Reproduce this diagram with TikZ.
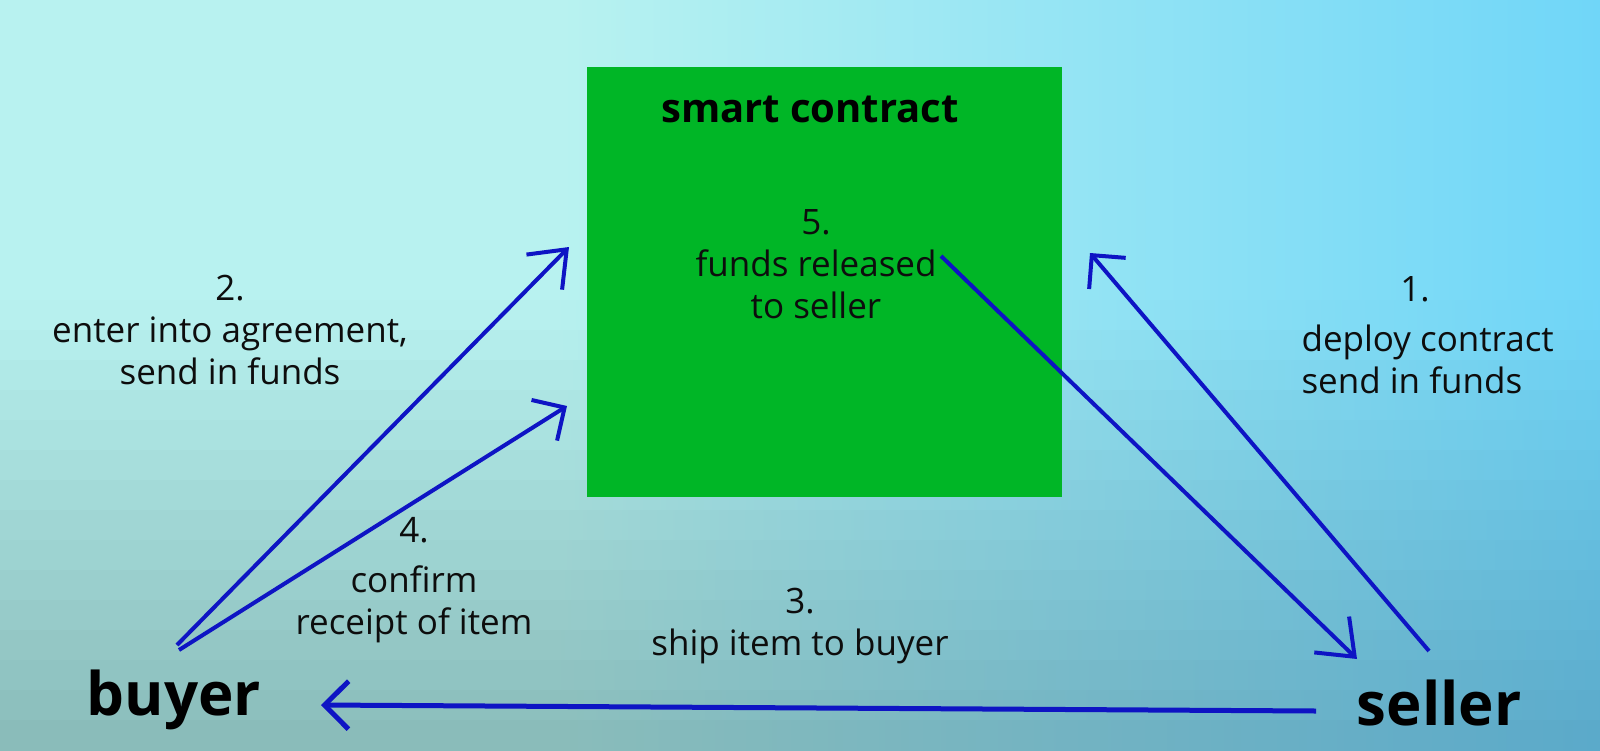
\documentclass[tikz,border=0pt]{standalone}
\usepackage{fontspec}
\setmainfont{Open Sans}
\usetikzlibrary{arrows.meta}

\definecolor{bgtl}{RGB}{184,242,240}
\definecolor{bgtr}{RGB}{112,214,248}
\definecolor{bgbl}{RGB}{136,186,184}
\definecolor{bgbr}{RGB}{90,168,200}
\definecolor{flowblue}{RGB}{14,20,196}
\definecolor{contractgreen}{RGB}{0,182,38}

\begin{document}
\begin{tikzpicture}[x=1pt,y=-1pt]
    \tikzstyle{stepnote}=[font=\fontsize{35}{42}\selectfont, align=center, text=black!95]
    \tikzstyle{party}=[font=\fontsize{60}{62}\selectfont\bfseries, text=black]
    \tikzstyle{flow}=[flowblue, line width=4pt, -{Straight Barb[length=24pt,width=48pt]}]
    \tikzstyle{bigflow}=[flowblue, line width=4pt, -{Straight Barb[length=32pt,width=50pt]}]

  %% background
  \useasboundingbox (0,0) rectangle (1600,750);
  \foreach \i in {0,...,24} {
    \pgfmathsetmacro{\ytop}{\i*30}
    \pgfmathtruncatemacro{\mix}{max(0,min(100,(\i*30+15-300)/450*100))}
    \fill[bgbl!\mix!bgtl] (0,\ytop) rectangle (561,\ytop+31);
    \shade[left color=bgbl!\mix!bgtl, right color=bgbr!\mix!bgtr] (560,\ytop) rectangle (1600,\ytop+31);
  }

  %% smart contract
  \node (contract) at (587,67) [anchor=north west, fill=contractgreen, minimum width=475pt, minimum height=430pt, inner sep=0pt] {};
  \node (title) at (810,109) [font=\fontsize{40}{42}\selectfont\bfseries] {smart contract};

  \node (buyer) at (174,700) [party] {buyer};
  \node (seller) at (1439,703) [party] {seller};

  %% arrow ends
  \coordinate (s1) at (1429,651); % seller
  \coordinate (c1) at (1090,253);
  \coordinate (b2) at (177,645);  % buyer
  \coordinate (c2) at (569,247);
  \coordinate (b4) at (179,650);
  \coordinate (c4) at (567,406);
  \coordinate (c5) at (941,256);
  \coordinate (s5) at (1357,659);
  \coordinate (s3) at (1316,711);
  \coordinate (b3) at (321,705);

  \draw[flow] (s1) -- (c1);
  \draw[bigflow] (b2) -- (c2);
  \draw[flow] (b4) -- (c4);
  \draw[bigflow] (c5) -- (s5);
  \draw[flow, line width=5pt] (s3) -- (b3);

  %% step labels
  \node (step2) at (230,330) [stepnote] {2.\\enter into agreement,\\send in funds};
  \node (step5) at (816,264) [stepnote] {5.\\funds released\\to seller};
  \node (step1n) at (1415,289) [stepnote] {1.};
  \node (step1) at (1298,359) [stepnote, anchor=west, align=left] {deploy contract\\send in funds};
  \node (step4) at (414,580) [stepnote] {4.\\[8pt]confirm\\receipt of item};
  \node (step3) at (800,626) [stepnote] {3.\\ship item to buyer};
\end{tikzpicture}
\end{document}
